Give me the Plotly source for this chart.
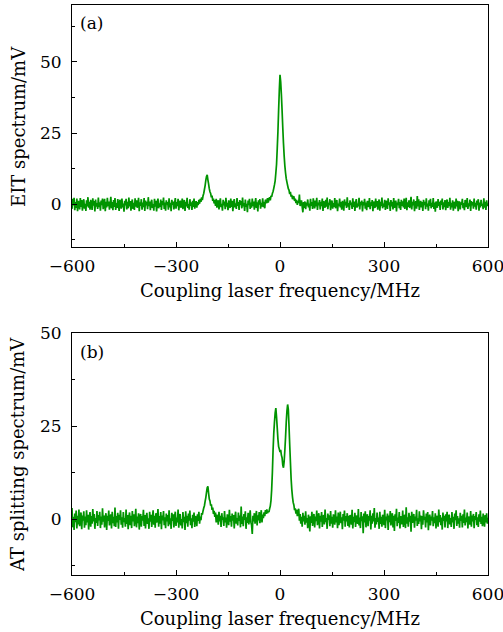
import numpy as np
import plotly.graph_objects as go
from plotly.subplots import make_subplots

# Frequency grid (MHz), 2 MHz step from -600 to 600
freq = np.arange(-600, 601, 2)

# Panel (a): EIT spectrum (mV) (rows of 40 MHz)
eit = [
    -1.6, 1.9, -0.4, 2.3, -2.1, 0.8, -1.3, 2.0, -2.4, 1.2, 0.3, -1.8, 2.2, -0.9, 1.5, -2.2, 0.6, 1.8, -1.5, 0.2,
    -2.3, 1.4, -0.7, 2.5, -1.2, 0.9, -1.9, 1.6, 0.0, -2.0, 2.1, -0.5, 1.1, -2.5, 1.7, -0.8, 0.4, -1.6, 2.4, -1.0,
    0.7, -2.2, 1.3, -0.3, 2.0, -1.7, 0.5, 1.9, -2.4, 0.9, -1.1, 2.3, -0.6, 1.0, -1.9, 0.2, 2.6, -1.4, 0.8, -2.1,
    1.5, -0.9, 2.2, -2.0, 0.4, -1.3, 1.8, -0.2, -2.3, 1.6, 0.6, -1.5, 2.0, -1.1, 0.3, -2.6, 1.2, -0.4, 1.9, -1.8,
    0.9, -1.4, 2.4, -0.7, 1.1, -2.2, 0.2, 1.7, -1.6, 0.5, -2.0, 2.1, -0.8, 1.4, -1.2, 0.0, 2.3, -2.4, 0.7, -0.5,
    1.8, -1.9, 0.6, -1.0, 2.2, -2.3, 1.3, -0.4, 0.9, -1.7, 2.5, -0.6, 1.0, -2.1, 0.4, 1.6, -1.3, 0.1, -2.2, 1.9,
    -0.8, 1.2, -2.5, 0.7, 2.0, -1.4, 0.3, -0.9, 1.7, -2.0, 1.1, -0.3, 2.4, -1.6, 0.6, -2.2, 1.4, -0.1, 0.8, -1.9,
    2.1, -1.1, 0.5, -2.4, 1.6, -0.2, 1.0, -1.8, 0.4, 2.2, -1.5, 0.8, -0.6, 1.9, -2.1, 0.2, 1.3, -1.2, -0.4, 2.0,
    -1.7, 0.6, 1.5, -2.3, 0.9, -0.7, 2.3, -1.3, 0.1, -1.9, 1.8, -0.5, 0.7, -2.0, 1.2, -0.9, 2.0, -1.5, 0.4, 1.1,
    -1.2, 0.8, -0.3, 1.6, 0.2, 1.9, 0.9, 2.4, 1.5, 3.0, 3.8, 5.2, 6.6, 8.4, 9.8, 10.3, 8.6, 7.2, 5.5, 4.4,
    3.8, 2.4, 3.1, 1.2, 2.0, 0.3, 1.5, -0.6, 1.9, -1.2, 0.7, 1.4, -1.8, 0.5, 2.1, -1.0, 0.2, -2.2, 1.6, -0.4,
    1.0, -1.7, 2.3, -0.8, 0.5, -2.1, 1.4, 0.1, -1.3, 2.0, -0.9, 1.2, -2.4, 0.6, 1.8, -1.1, 0.3, -1.6, 2.2, -0.5,
    0.8, -2.0, 1.5, -0.2, 1.1, -1.4, 2.4, -0.7, 0.4, -2.3, 1.7, -0.9, 0.2, -2.8, 1.3, -0.3, 1.9, -1.6, 0.6, -1.2,
    2.0, -0.6, 1.0, -1.9, 0.3, 2.2, -1.3, 0.7, -2.5, 1.4, -0.1, 1.8, -1.5, 0.5, -0.8, 2.1, -1.0, 0.9, -1.4, 1.6,
    1.2, 0.4, 2.2, 0.6, 1.7, 2.5, 1.4, 3.0, 2.6, 3.8, 4.5, 5.6, 6.8, 8.2, 11.0, 14.0, 19.5, 25.5, 33.0, 40.0,
    45.5, 43.0, 38.5, 33.0, 27.0, 21.5, 17.0, 13.5, 11.0, 9.0, 7.8, 6.6, 5.5, 5.0, 3.6, 4.4, 2.7, 3.3, 1.8, 2.6,
    2.8, 1.2, 2.0, 0.4, 1.6, -0.2, 1.1, 0.5, 3.4, -0.6, 0.2, 1.4, -0.9, -2.8, 0.8, -1.3, 1.0, -1.7, 0.6, -0.4,
    1.7, -1.1, 0.3, -2.2, 1.9, -0.5, 0.8, -1.6, 2.1, 0.0, -1.4, 1.3, -0.7, 2.3, -2.0, 0.6, -0.3, 1.5, -1.8, 0.9,
    -0.6, 2.0, -2.3, 1.1, 0.2, -1.2, 1.6, -0.8, 2.4, -1.7, 0.5, -0.2, 1.8, -2.1, 0.9, 1.3, -1.5, 0.4, -0.9, 2.2,
    -1.4, 0.7, 1.5, -2.4, 0.3, -0.6, 2.0, -1.1, 0.8, -1.9, 1.2, 0.1, -2.2, 1.7, -0.4, 0.9, -1.3, 2.5, -0.8, 0.4,
    -2.0, 1.4, -0.1, 0.6, -1.6, 2.1, -0.9, 1.0, -2.3, 0.5, 1.8, -1.2, 0.2, -0.7, 2.3, -1.8, 0.9, -0.3, 1.3, -2.5,
    0.8, -0.4, 1.9, -1.5, 0.6, -2.1, 1.2, 0.3, -1.0, 2.2, -1.7, 0.7, -0.5, 1.5, -2.4, 1.0, 0.0, -1.3, 2.0, -0.8,
    1.1, -1.9, 0.4, 1.7, -2.2, 0.9, -0.6, 2.4, -1.4, 0.2, -0.9, 1.6, -2.0, 1.2, 0.5, -1.6, 2.1, -0.3, 0.7, -2.3,
    1.5, -0.7, 0.9, -1.8, 2.2, -1.2, 0.1, 1.3, -2.5, 0.6, -0.2, 1.9, -1.4, 0.8, -2.0, 1.6, -0.5, 1.0, -1.1, 2.0,
    -1.6, 0.3, 2.3, -2.1, 0.7, -0.9, 1.4, -1.3, 0.5, 2.6, -1.8, 0.9, -0.4, 1.7, -2.4, 0.2, 1.1, -1.5, 2.9, -0.7,
    1.8, -2.0, 0.4, 1.2, -1.1, 0.8, -2.3, 1.6, -0.3, 0.9, -1.7, 2.1, -0.8, 0.3, -2.2, 1.4, -0.6, 1.9, -1.4, 0.5,
    -0.9, 2.2, -1.6, 0.6, -2.6, 1.0, 0.2, -1.2, 1.8, -0.5, 0.9, -2.0, 1.3, -0.2, 2.0, -1.8, 0.7, -1.0, 1.5, -2.1,
    0.4, 1.7, -1.3, 0.8, -0.6, 2.3, -1.9, 0.5, -1.1, 1.4, -2.2, 0.9, 0.1, -1.5, 2.0, -0.7, 1.2, -2.4, 0.6, 1.0,
    -1.8, 0.7, -0.2, 1.9, -1.4, 0.4, -2.1, 1.5, 0.9, -1.0, 2.2, -1.6, 0.3, -0.7, 1.7, -2.3, 1.1, -0.4, 0.8, -1.5,
    2.0, -0.8, 0.5, -1.9, 1.3, -0.3, 1.8, -2.2, 0.6, -1.1, 1.6, -0.5, 0.2, -1.7, 2.1, -1.2, 0.9, -2.0, 1.4, -0.6,
    0.3,
]

# Panel (b): AT splitting spectrum (mV) (rows of 40 MHz)
at_split = [
    3.0, -2.2, 0.6, -2.9, 1.5, -0.8, 2.3, -2.5, 0.9, -1.4, 2.6, -1.9, 0.2, 1.8, -2.7, 1.0, -0.4, 2.1, -2.3, 0.7,
    -1.6, 2.4, -0.9, 1.2, -2.8, 0.5, 1.9, -2.0, 0.8, -1.2, 2.7, -0.6, 1.4, -2.6, 0.3, -1.0, 2.2, -1.8, 1.1, -0.3,
    2.0, -2.4, 0.7, -1.5, 2.9, -0.7, 1.0, -2.2, 0.4, 1.6, -2.9, 0.9, -0.5, 2.3, -1.7, 0.1, 1.3, -2.5, 2.0, -1.1,
    0.6, -1.9, 3.1, -2.1, 0.8, -0.9, 1.7, -2.6, 1.2, -0.2, 2.4, -1.5, 0.5, -2.3, 1.9, -0.8, 0.3, -2.0, 2.6, -1.3,
    1.1, -2.7, 0.4, 1.8, -1.6, 0.9, -2.4, 2.2, -0.6, 1.3, -1.9, 0.0, 2.8, -2.2, 0.7, -1.1, 1.6, -2.8, 0.5, 1.4,
    -2.0, 0.8, -0.4, 2.5, -1.8, 1.1, -2.5, 0.6, 1.7, -1.3, 0.2, -2.6, 2.0, -0.7, 1.2, -2.1, 0.4, 2.4, -1.5, 0.9,
    -2.3, 1.6, -0.9, 0.3, 2.7, -2.0, 0.8, -1.2, 1.9, -2.7, 1.0, -0.3, 2.2, -1.6, 0.5, -2.4, 1.5, -0.6, 1.1, -1.9,
    2.4, -1.4, 0.2, -2.6, 1.7, -0.5, 1.3, -2.2, 0.7, 2.0, -1.8, 0.4, -0.9, 2.6, -2.3, 0.9, 1.4, -1.7, 0.0, -2.5,
    1.9, -0.8, 0.6, -2.9, 2.1, -1.1, 0.9, -2.0, 1.5, -0.4, 2.3, -1.6, 0.2, -2.4, 1.2, -0.7, 1.8, -2.1, 0.8, 0.4,
    -1.9, 1.3, -0.5, 2.0, -1.2, 0.7, -0.3, 1.6, 1.2, 2.2, 3.0, 3.6, 4.8, 5.8, 7.2, 8.4, 8.8, 7.0, 5.4, 4.9,
    3.6, 4.0, 2.5, 3.1, 1.4, 2.2, 0.6, 1.8, -0.9, 1.2, 0.3, -1.5, 2.0, -0.6, 0.9, -2.1, 1.6, -0.2, 0.5, -1.8,
    2.2, -0.9, 0.4, -2.3, 1.3, 0.1, -1.6, 2.5, -0.7, 0.8, -2.0, 1.5, -0.4, 1.1, -2.5, 0.6, 2.0, -1.2, 0.3, -1.7,
    1.8, -0.5, 1.0, -2.2, 3.4, -1.3, 0.7, -1.9, 1.4, -0.2, 2.1, -2.6, 0.5, -1.0, 1.7, -1.4, 0.2, 2.4, -0.8, -1.6,
    -4.0, 0.9, -0.6, 1.6, -1.2, 0.4, 2.2, -1.7, 1.0, -0.3, 1.9, -1.1, 0.6, 2.4, -0.9, 1.2, 0.3, 1.8, 0.8, 2.4,
    1.4, 2.6, 1.6, 2.2, 1.9, 2.8, 3.5, 5.0, 8.0, 12.5, 18.5, 23.0, 26.0, 28.5, 29.8, 27.5, 24.5, 21.5, 19.5, 18.8,
    18.0, 18.6, 17.2, 16.5, 14.5, 13.8, 15.5, 18.5, 22.0, 26.0, 29.0, 30.8, 29.5, 25.0, 20.0, 15.5, 11.0, 8.0, 6.0, 4.5,
    3.8, 2.4, 2.9, 1.5, 2.6, 0.8, 1.9, 2.8, -0.4, 1.4, -1.2, 0.6, -2.0, 1.7, -0.6, 0.9, -1.5, 2.1, -0.9, 0.3,
    -2.4, 1.2, -0.3, -3.3, 0.8, -1.0, 2.0, -1.8, 0.5, 1.4, -2.2, 0.7, -0.5, 2.3, -1.6, 0.2, 1.6, -2.5, 0.9, -0.7,
    1.9, -2.1, 0.4, 1.1, -1.4, 2.6, -0.8, 0.3, -2.6, 1.5, -0.2, 1.0, -1.9, 2.2, -1.2, 0.6, -2.3, 1.3, 0.0, -1.5,
    2.4, -0.9, 0.7, -2.4, 1.8, -1.6, 0.2, 2.0, -1.1, 0.5, -2.7, 1.4, -0.4, 2.3, -2.0, 0.8, -0.6, 1.6, -1.8, 0.9,
    -2.2, 1.1, 0.3, -1.5, 2.5, -2.5, 0.6, -0.8, 1.7, -2.1, 1.0, 0.1, -1.3, 2.7, -1.7, 0.4, -2.4, 1.9, -0.5, 0.8,
    -3.8, 1.5, -0.9, 2.1, -2.2, 0.5, 1.3, -1.9, 0.8, -0.4, 2.4, -2.8, 0.9, -1.2, 1.6, -0.6, 3.0, -2.3, 0.3, -1.4,
    1.8, -0.7, 0.4, -2.6, 2.0, -1.3, 0.6, -2.0, 1.2, 0.2, -1.6, 2.5, -2.4, 0.7, -0.3, 1.5, -2.9, 1.0, -0.8, 2.2,
    -1.7, 0.3, 1.6, -2.2, 0.9, -3.2, 1.3, -0.5, 2.8, -1.9, 0.4, -1.0, 1.9, -2.5, 0.8, 0.0, -1.4, 2.3, -2.1, 0.6,
    1.2, -2.4, 3.2, -1.2, 0.5, -2.0, 1.7, -0.7, 0.9, -3.4, 2.0, -1.0, 0.3, 1.4, -2.3, 0.7, -0.4, 2.5, -1.8, 0.2,
    -1.3, 2.1, -0.6, 1.0, -2.7, 0.8, -1.5, 2.4, -0.2, 0.6, -2.2, 1.5, -0.9, 1.9, -3.0, 0.4, 1.2, -1.7, 0.7, -0.4,
    2.2, -1.9, 0.5, -1.1, 1.6, -2.5, 0.9, 0.1, -2.0, 2.6, -0.8, 1.1, -1.6, 0.4, -2.8, 1.8, -0.5, 0.9, -2.2, 1.3,
    -0.6, 2.0, -2.4, 0.7, 1.2, -1.4, 0.3, -2.1, 1.9, -0.9, 0.6, -2.6, 1.5, -0.3, 2.4, -1.8, 0.8, -1.2, 0.2, -2.3,
    1.7, -0.5, 0.9, -2.2, 1.3, -1.0, 2.6, -1.7, 0.4, -0.8, 1.8, -2.5, 0.7, 0.0, -1.5, 2.2, -2.0, 1.0, -0.6, 1.4,
    -2.4, 0.8, -0.2, 1.9, -1.6, 0.5, -2.1, 1.3, -0.7, 2.3, -1.3, 0.6, -1.9, 1.5, -0.4, -2.0, 1.1, -0.9, 1.6, -1.2,
    0.4,
]

x_tickvals = [-600, -300, 0, 300, 600]
x_ticktext = ["\u2212600", "\u2212300", "0", "300", "600"]
y_tickvals = [0, 25, 50]
y_ticktext = ["0", "25", "50"]
panel_labels = ["(a)", "(b)"]
y_titles = ["EIT spectrum/mV", "AT splitting spectrum/mV"]
x_title = "Coupling laser frequency/MHz"

GREEN = "#009400"
FONT = "DejaVu Serif"
FS = 17
TFS = 18

fig = make_subplots(rows=2, cols=1, vertical_spacing=0.1508)
for r, ys in ((1, eit), (2, at_split)):
    fig.add_trace(go.Scatter(x=freq, y=ys, mode="lines",
                             line=dict(color=GREEN, width=1.7, simplify=False),
                             showlegend=False, hoverinfo="skip"), row=r, col=1)

axis_common = dict(showline=True, linecolor="black", linewidth=1, mirror=True,
                   ticks="inside", ticklen=5, tickwidth=1, tickcolor="black",
                   showgrid=False, zeroline=False, automargin=False,
                   ticklabeloverflow="allow",
                   tickfont=dict(family=FONT, size=FS, color="black"))

for r in (1, 2):
    fig.update_xaxes(range=[-600, 600], tickvals=x_tickvals, ticktext=x_ticktext,
                     ticklabelstandoff=4,
                     minor=dict(ticks="inside", ticklen=3, tickcolor="black", dtick=150, tick0=-600),
                     row=r, col=1, **axis_common)

fig.update_yaxes(range=[-15, 70], tickvals=y_tickvals, ticktext=y_ticktext,
                 ticklabelstandoff=6,
                 minor=dict(ticks="inside", ticklen=3, tickcolor="black", dtick=12.5, tick0=0),
                 row=1, col=1, **axis_common)
fig.update_yaxes(range=[-15, 50], tickvals=y_tickvals, ticktext=y_ticktext,
                 ticklabelstandoff=6,
                 minor=dict(ticks="inside", ticklen=3, tickcolor="black", dtick=12.5, tick0=0),
                 row=2, col=1, **axis_common)

fig.update_layout(
    width=503, height=632,
    margin=dict(l=72, r=15, t=5, b=57),
    plot_bgcolor="white", paper_bgcolor="white",
    yaxis=dict(domain=[0.5754, 1.0]),
    yaxis2=dict(domain=[0.0, 0.4246]),
)

title_font = dict(family=FONT, size=TFS, color="black")
for i, (xd, yd) in enumerate((("x domain", "y domain"), ("x2 domain", "y2 domain"))):
    fig.add_annotation(text=x_title, xref=xd, yref=yd, x=0.5, y=-0.178,
                       xanchor="center", yanchor="middle", showarrow=False, font=title_font)
    fig.add_annotation(text=y_titles[i], xref=xd, yref=yd, x=-0.13, y=0.5,
                       xanchor="center", yanchor="middle", textangle=-90,
                       showarrow=False, font=title_font)
    fig.add_annotation(text=panel_labels[i], xref=xd, yref=yd, x=0.015, y=[0.925, 0.92][i],
                       xanchor="left", yanchor="middle", showarrow=False,
                       font=dict(family=FONT, size=17, color="black"))

fig.write_html("out.html", config={"displayModeBar": False},
               post_script="document.body.style.margin='0';document.body.style.padding='0';"
                           "document.documentElement.style.overflow='hidden';")
